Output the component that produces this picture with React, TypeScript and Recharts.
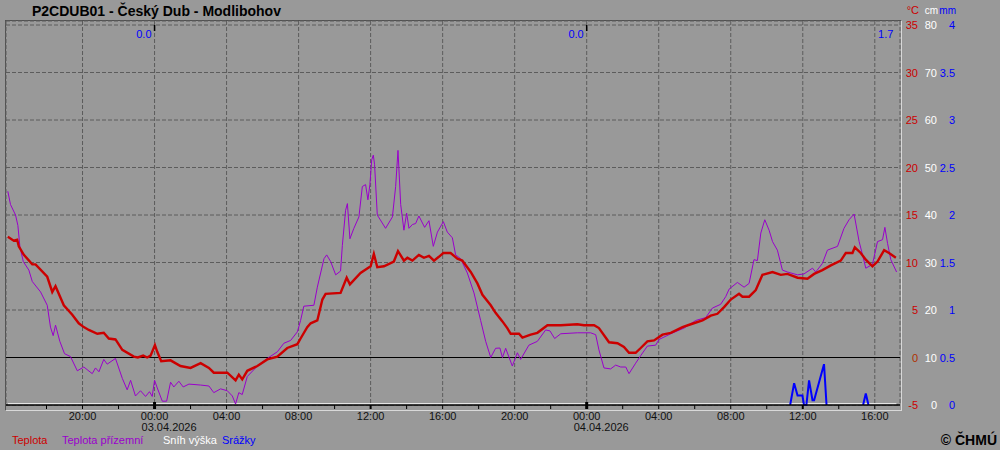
import React from 'react'
import { LineChart, Line, XAxis, YAxis, CartesianGrid, ReferenceLine } from 'recharts'

const FONT = '"Liberation Sans", Arial, sans-serif'
const RED = '#cc0000'
const PURPLE = '#9900cc'
const BLUE = '#0000ff'
const WHITE = '#ffffff'
const BG = '#999999'

// hours relative to 03.04.2026 00:00
const tempHours = [
  -8.15, -7.82, -7.63, -7.54, -7.26, -6.79, -6.61, -5.96, -5.68, -5.5, -5.04, -4.57, -4.21, -3.93, -3.65, -3.18,
  -2.82, -2.54, -2.17, -1.79, -1.15, -0.93, -0.63, -0.41, -0.22, 0.02, 0.15, 0.37, 0.89, 1.44, 2.0, 2.56, 3.02,
  3.29, 4.04, 4.5, 4.68, 4.87, 5.15, 5.71, 6.26, 6.82, 7.37, 7.93, 8.11, 8.48, 8.67, 9.04, 9.32, 9.5, 10.33, 10.67,
  10.85, 11.44, 12.0, 12.18, 12.37, 12.74, 13.29, 13.52, 13.85, 14.04, 14.32, 14.68, 14.96, 15.24, 15.52, 15.79,
  16.04, 16.44, 16.82, 17.09, 17.56, 17.93, 18.21, 18.67, 18.94, 19.32, 19.59, 19.78, 20.24, 20.43, 20.89, 21.26,
  21.82, 22.56, 23.48, 23.85, 24.41, 24.68, 25.24, 25.71, 26.07, 26.35, 26.72, 27.0, 27.37, 27.74, 28.21, 28.67,
  29.32, 29.78, 30.43, 30.89, 31.26, 31.63, 32.0, 32.46, 32.65, 33.02, 33.39, 33.76, 34.32, 34.78, 35.15, 35.71,
  36.26, 36.63, 37.09, 37.56, 38.11, 38.39, 38.76, 38.89, 39.22, 39.5, 39.87, 40.15, 40.52, 40.79, 41.17,
]
const tempValues = [
  12.7, 12.3, 12.4, 11.7, 10.8, 9.8, 9.8, 8.5, 6.9, 7.5, 5.5, 4.5, 3.6, 3.2, 2.9, 2.5,
  2.6, 2.0, 1.9, 0.8, 0.1, 0.0, 0.2, 0.0, 0.2, 1.3, 0.6, -0.4, -0.3, -0.9, -1.1, -0.6, -1.1,
  -1.6, -1.6, -2.4, -1.8, -2.3, -1.4, -0.9, -0.2, 0.1, 1.0, 1.4, 2.0, 3.2, 3.6, 3.9, 6.1, 6.7, 6.8, 8.4,
  7.7, 8.9, 9.6, 10.9, 9.5, 9.6, 10.1, 11.2, 10.2, 10.5, 10.2, 10.8, 10.5, 10.7, 10.2, 10.6,
  11.0, 11.0, 10.4, 10.2, 9.0, 7.8, 6.6, 5.5, 4.7, 3.8, 3.1, 2.5, 2.5, 2.1, 2.4, 2.6,
  3.4, 3.4, 3.5, 3.4, 3.4, 3.1, 1.6, 1.5, 1.1, 0.5, 0.5, 1.0, 1.7, 1.8, 2.4, 2.6,
  3.2, 3.5, 3.9, 4.4, 4.6, 5.3, 6.1, 6.7, 6.4, 6.4, 7.1, 8.7, 9.0, 8.7, 8.8, 8.4,
  8.3, 8.8, 9.2, 9.7, 10.2, 11.0, 11.0, 11.6, 11.0, 10.3, 9.6, 10.1, 11.3, 11.0, 10.5,
]

const groundHours = [
  -8.15, -8.0, -7.72, -7.59, -7.48, -7.29, -6.98, -6.79, -6.33, -5.96, -5.78, -5.63, -5.5, -5.26, -5.0, -4.67,
  -4.29, -3.93, -3.46, -3.28, -3.09, -2.82, -2.63, -2.17, -1.79, -1.52, -1.33, -1.06, -0.78, -0.5, -0.28, -0.13,
  0.0, 0.15, 0.43, 0.67, 0.89, 1.07, 1.35, 1.59, 1.91, 2.56, 3.02, 3.29, 3.67, 4.04, 4.32, 4.5, 4.68, 4.87, 5.15,
  5.71, 6.26, 6.82, 7.18, 7.56, 7.93, 8.11, 8.29, 8.85, 9.04, 9.41, 9.56, 9.78, 10.06, 10.33, 10.43, 10.61, 10.71,
  10.85, 11.07, 11.35, 11.54, 11.72, 11.85, 11.96, 12.06, 12.15, 12.22, 12.37, 12.83, 13.21, 13.39, 13.52, 13.67,
  13.85, 14.0, 14.13, 14.32, 14.5, 14.68, 15.0, 15.24, 15.48, 15.71, 16.04, 16.26, 16.54, 16.72, 17.0, 17.37,
  17.74, 18.11, 18.39, 18.67, 18.94, 19.18, 19.32, 19.5, 19.87, 20.15, 20.33, 20.79, 21.26, 21.72, 21.96, 22.22,
  22.56, 23.48, 24.22, 24.5, 24.68, 24.96, 25.33, 25.61, 25.89, 26.17, 26.35, 26.72, 27.0, 27.37, 27.83, 28.02,
  28.67, 29.41, 30.06, 30.61, 30.98, 31.44, 31.72, 31.91, 32.37, 32.74, 33.02, 33.29, 33.48, 33.67, 33.89, 34.13,
  34.32, 34.59, 34.87, 35.15, 35.71, 36.07, 36.54, 36.72, 37.09, 37.37, 37.93, 38.29, 38.57, 38.85, 39.13, 39.32,
  39.5, 39.87, 40.15, 40.43, 40.56, 40.71, 40.89, 41.21,
]
const groundValues = [
  17.5, 16.1, 15.0, 13.9, 11.7, 10.1, 9.2, 8.0, 6.9, 5.5, 3.2, 2.3, 3.4, 1.7, 0.4, 0.1,
  -1.4, -1.0, -1.7, -1.1, -1.5, -0.2, -0.7, -0.1, -2.2, -3.4, -2.4, -4.05, -3.5, -4.1, -3.6, -4.1,
  -2.4, -3.2, -4.6, -4.6, -2.6, -3.1, -2.5, -3.1, -2.8, -2.9, -3.0, -3.7, -3.3, -3.5, -4.05, -4.9, -3.7, -3.9, -2.0,
  -0.9, -0.1, 0.6, 1.5, 1.8, 2.7, 3.9, 5.4, 5.5, 7.4, 10.4, 10.8, 10.1, 8.7, 9.1, 11.8, 15.5, 16.2,
  12.5, 13.6, 14.8, 18.0, 18.2, 16.6, 18.2, 20.8, 21.3, 20.3, 15.0, 13.6, 14.8, 18.0, 21.8, 16.1,
  13.4, 15.2, 13.6, 14.0, 14.1, 14.9, 13.7, 14.4, 11.7, 13.2, 14.3, 13.2, 12.6, 10.8, 10.4, 8.9,
  6.8, 3.9, 1.7, 0.0, 0.97, 1.0, 0.0, 0.97, -0.9, 0.5, -0.2, 1.3, 1.7, 2.9, 2.8, 2.0,
  2.5, 2.6, 2.6, 2.4, 0.8, -1.1, -1.2, -0.8, -1.0, -1.0, -1.7, -0.6, 0.2, 1.2, 1.3, 1.9,
  2.5, 3.1, 3.9, 4.2, 5.2, 5.6, 6.4, 7.2, 7.9, 7.4, 7.8, 10.3, 10.2, 13.1, 14.5, 13.4,
  12.2, 11.3, 9.2, 9.0, 8.7, 8.8, 9.4, 9.0, 9.9, 11.3, 11.7, 13.6, 14.5, 15.1, 12.2, 10.8,
  9.4, 9.8, 12.2, 12.4, 13.7, 12.0, 10.3, 9.0,
]

const snowHours = [-8.15, 41.2]
const snowValues = [0, 0]

const rainHours = [35.3, 35.52, 35.71, 35.98, 36.07, 36.2, 36.35, 36.54, 36.63, 37.18, 37.32, 38.0, 39.35, 39.5, 39.65]
const rainValues = [0, 0.23, 0.1, 0.1, 0, 0, 0.26, 0.05, 0.05, 0.43, 0, null, 0, 0.12, 0]

const tickHours = [-6, -4, -2, 0, 2, 4, 6, 8, 10, 12, 14, 16, 18, 20, 22, 24, 26, 28, 30, 32, 34, 36, 38, 40]
const tickLabels = [
  '', '20:00', '', '00:00', '', '04:00', '', '08:00', '', '12:00', '', '16:00',
  '', '20:00', '', '00:00', '', '04:00', '', '08:00', '', '12:00', '', '16:00',
]
const gridHours = [-4, 0, 4, 8, 12, 16, 20, 24, 28, 32, 36, 40]
const dayHours = [0, 24]
const dayLabels = ['03.04.2026', '04.04.2026']
const totalHours = [0, 24, 41.2]
const totalLabels = ['0.0', '0.0', '1.7']

const tempTicks = [-5, 0, 5, 10, 15, 20, 25, 30, 35]
const snowTicks = ['0', '10', '20', '30', '40', '50', '60', '70', '80']
const rainTicks = ['0', '0.5', '1', '1.5', '2', '2.5', '3', '3.5', '4']

const legendItems = [
  { label: 'Teplota', color: RED },
  { label: 'Teplota přízemní', color: PURPLE },
  { label: 'Sníh výška', color: WHITE },
  { label: 'Srážky', color: BLUE },
]
const legendX = [12, 62, 163, 222]

const tempData = tempHours.map((t, i) => ({ t, v: tempValues[i] }))
const groundData = groundHours.map((t, i) => ({ t, v: groundValues[i] }))
const snowData = snowHours.map((t, i) => ({ t, v: snowValues[i] }))
const rainData = rainHours.map((t, i) => ({ t, v: rainValues[i] }))

function TimeTick({ x, y, payload }: any) {
  const i = tickHours.indexOf(payload.value)
  const label = tickLabels[i]
  const d = dayHours.indexOf(payload.value)
  const midnight = d >= 0
  const noon = label === '12:00'
  return (
    <g fontFamily={FONT} fontSize={11} fill="#111">
      <line
        x1={x}
        x2={x}
        y1={midnight ? y - 3 : y}
        y2={y + 4}
        stroke="#000"
        strokeWidth={midnight ? 3 : noon ? 2 : 1}
      />
      {label && (
        <text x={x} y={y + 15} textAnchor="middle">
          {label}
        </text>
      )}
      {midnight && (
        <text x={x - 13} y={y + 26} textAnchor="start">
          {dayLabels[d]}
        </text>
      )}
    </g>
  )
}

function ValueTick({ x, y, payload }: any) {
  const i = tempTicks.indexOf(payload.value)
  return (
    <g fontFamily={FONT} fontSize={11}>
      <text x={x + 18} y={y + 4} textAnchor="end" fill={payload.value === 0 ? '#b03000' : RED}>
        {payload.value}
      </text>
      <text x={x + 37} y={y + 4} textAnchor="end" fill={WHITE}>
        {snowTicks[i]}
      </text>
      <text x={x + 55} y={y + 4} textAnchor="end" fill={BLUE}>
        {rainTicks[i]}
      </text>
    </g>
  )
}

function TotalLabel({ viewBox, text, midnight }: any) {
  if (!viewBox) return null
  return (
    <g>
      {midnight && <line x1={viewBox.x} x2={viewBox.x} y1={viewBox.y + 4} y2={viewBox.y + 10} stroke="#000" strokeWidth={1.5} />}
      <text x={viewBox.x - 3} y={viewBox.y + 17} textAnchor="end" fill={BLUE} fontFamily={FONT} fontSize={11}>
        {text}
      </text>
    </g>
  )
}

export default function App() {
  return (
    <div style={{ position: 'fixed', left: 0, top: 0, width: 1000, height: 450, background: BG, overflow: 'hidden' }}>
      <div
        style={{
          position: 'absolute',
          left: 5,
          top: 20,
          width: 897,
          height: 391,
          boxSizing: 'border-box',
          borderTop: '1px solid #505050',
          borderLeft: '1px solid #505050',
          borderRight: '1px solid #d8d8d8',
          borderBottom: '1px solid #d8d8d8',
        }}
      />
      <div style={{ position: 'absolute', left: 0, top: 0 }}>
        <LineChart width={1000} height={450} margin={{ top: 21, right: 40, bottom: 15, left: 6 }}>
          <XAxis
            dataKey="t"
            type="number"
            domain={[-8.25, 41.4]}
            allowDataOverflow
            ticks={tickHours}
            interval={0}
            tick={<TimeTick />}
            tickLine={false}
            tickSize={0}
            tickMargin={0}
            height={30}
            axisLine={{ stroke: '#000', strokeWidth: 1.5 }}
          />
          <XAxis xAxisId="g" dataKey="t" type="number" domain={[-8.25, 41.4]} allowDataOverflow ticks={gridHours} interval={0} hide />
          <YAxis
            yAxisId="t"
            orientation="right"
            type="number"
            domain={[-5, 35]}
            ticks={tempTicks}
            interval={0}
            padding={{ top: 4, bottom: 0 }}
            width={60}
            axisLine={false}
            tickLine={false}
            tickSize={0}
            tickMargin={0}
            tick={<ValueTick />}
          />
          <YAxis yAxisId="cm" type="number" domain={[0, 80]} padding={{ top: 4, bottom: 1 }} hide />
          <YAxis yAxisId="mm" type="number" domain={[0, 4]} padding={{ top: 4, bottom: 0 }} hide />
          <CartesianGrid
            xAxisId="g"
            yAxisId="t"
            stroke="#5c5c5c"
            strokeDasharray="4 2"
            horizontal
            vertical
          />
          <ReferenceLine yAxisId="t" y={0} stroke="#000" strokeWidth={1} />
          {totalHours.map((h, i) => (
            <ReferenceLine
              key={`total-${i}`}
              yAxisId="t"
              x={h}
              stroke="none"
              strokeOpacity={0}
              label={<TotalLabel text={totalLabels[i]} midnight={dayHours.includes(h)} />}
            />
          ))}
          <Line
            yAxisId="cm"
            data={snowData}
            dataKey="v"
            stroke={WHITE}
            strokeWidth={1.5}
            dot={false}
            activeDot={false}
            isAnimationActive={false}
          />
          <Line
            yAxisId="mm"
            data={rainData}
            dataKey="v"
            stroke={BLUE}
            strokeWidth={2}
            dot={false}
            activeDot={false}
            isAnimationActive={false}
          />
          <Line
            yAxisId="t"
            data={groundData}
            dataKey="v"
            stroke={PURPLE}
            strokeWidth={1}
            dot={false}
            activeDot={false}
            isAnimationActive={false}
          />
          <Line
            yAxisId="t"
            data={tempData}
            dataKey="v"
            stroke={RED}
            strokeWidth={2.4}
            dot={false}
            activeDot={false}
            isAnimationActive={false}
          />
        </LineChart>
      </div>
      <svg width={1000} height={450} style={{ position: 'absolute', left: 0, top: 0, pointerEvents: 'none' }}>
        <text x={32} y={16} fontFamily={FONT} fontSize={14} fontWeight="bold" fill="#000">
          P2CDUB01 - Český Dub - Modlibohov
        </text>
        <g fontFamily={FONT}>
          <text x={919} y={14} textAnchor="end" fill={RED} fontSize={11}>°C</text>
          <text x={938} y={14} textAnchor="end" fill={WHITE} fontSize={10}>cm</text>
          <text x={956} y={14} textAnchor="end" fill={BLUE} fontSize={10}>mm</text>
        </g>
        <g fontFamily={FONT} fontSize={11}>
          {legendItems.map((item, i) => (
            <text key={item.label} x={legendX[i]} y={444} fill={item.color}>
              {item.label}
            </text>
          ))}
        </g>
        <text x={997} y={445} textAnchor="end" fontFamily={FONT} fontSize={14} fontWeight="bold" fill="#000">
          © ČHMÚ
        </text>
      </svg>
    </div>
  )
}
